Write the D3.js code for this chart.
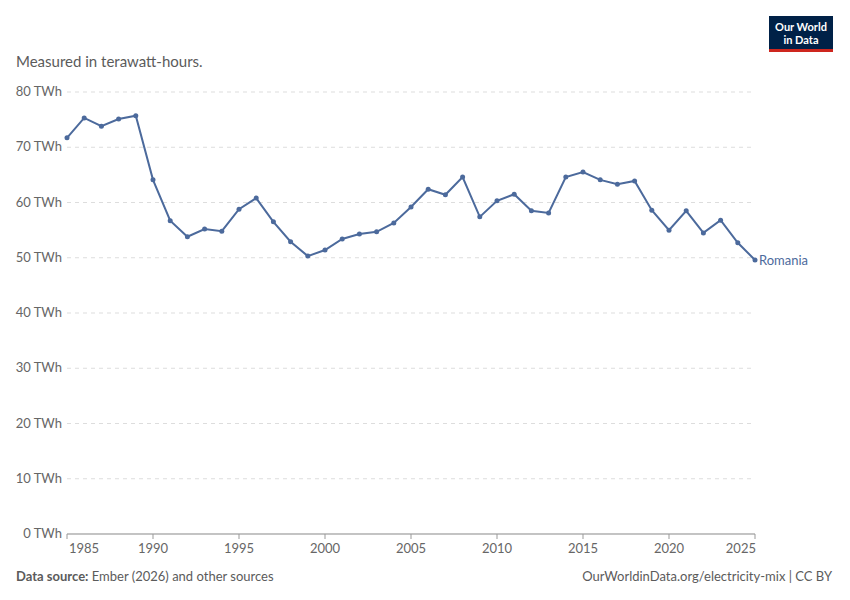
<!doctype html>
<html>
<head>
<meta charset="utf-8"/>
<script src="https://d3js.org/d3.v7.min.js"></script>
<style>
body{margin:0;background:#fff;font-family:Lato,"Noto Sans",sans-serif;}
</style>
</head>
<body>
<script>
var years = d3.range(1985, 2026);
var values = [71.7,75.3,73.8,75.1,75.7,64.1,56.7,53.8,55.2,54.8,58.8,60.8,56.5,52.9,50.3,51.4,53.4,54.3,54.7,56.3,
  59.2,62.4,61.4,64.6,57.4,60.3,61.5,58.5,58.1,64.6,65.5,64.1,63.3,63.9,58.6,55.0,58.5,54.5,56.8,52.7,49.6];
var yTicks = [0,10,20,30,40,50,60,70,80];
var xTicks = [1985,1990,1995,2000,2005,2010,2015,2020,2025];
var country = "Romania";
var color = "#4c6a9c";

var svg = d3.select("body").append("svg").attr("width",850).attr("height",600);

var x = d3.scaleLinear().domain([1985,2025]).range([67,755]);
var y = d3.scaleLinear().domain([0,80]).range([534,92]);

svg.append("text").attr("x",16).attr("y",67).attr("font-size",15).attr("fill","#5b5b5b").text("Measured in terawatt-hours.");

// logo
svg.append("rect").attr("x",769).attr("y",16).attr("width",64).attr("height",36).attr("fill","#002147");
svg.append("rect").attr("x",769).attr("y",49).attr("width",64).attr("height",3).attr("fill","#ce261e");
svg.append("text").attr("x",801).attr("y",31).attr("text-anchor","middle").attr("font-size",11).attr("font-weight",700).attr("fill","#fff").text("Our World");
svg.append("text").attr("x",801).attr("y",44).attr("text-anchor","middle").attr("font-size",11).attr("font-weight",700).attr("fill","#fff").text("in Data");

// grid + y labels
yTicks.forEach(function(t){
  svg.append("line").attr("x1",67).attr("x2",755).attr("y1",y(t)).attr("y2",y(t))
    .attr("stroke","#ddd").attr("stroke-dasharray", t===0 ? null : "4,4");
  svg.append("text").attr("x",62).attr("y",y(t)+4).attr("text-anchor","end").attr("font-size",13).attr("fill","#666").text(t+" TWh");
});
svg.append("line").attr("x1",67).attr("x2",755).attr("y1",y(0)).attr("y2",y(0)).attr("stroke","#999");

// x axis
xTicks.forEach(function(t,i){
  svg.append("line").attr("x1",x(t)).attr("x2",x(t)).attr("y1",y(0)).attr("y2",y(0)+5).attr("stroke","#999");
  var lx = x(t), anchor = "middle";
  if(i===0){ lx = 69; anchor = "start"; }
  if(i===xTicks.length-1){ lx = 756; anchor = "end"; }
  svg.append("text").attr("x",lx).attr("y",553).attr("text-anchor",anchor).attr("font-size",13).attr("fill","#666").text(t);
});

var data = years.map(function(d,i){return {year:d,value:values[i]};});
svg.append("path").datum(data).attr("fill","none").attr("stroke",color).attr("stroke-width",2)
  .attr("d", d3.line().x(function(d){return x(d.year);}).y(function(d){return y(d.value);}));
svg.selectAll("circle.pt").data(data).enter().append("circle")
  .attr("cx",function(d){return x(d.year);}).attr("cy",function(d){return y(d.value);})
  .attr("r",2.5).attr("fill",color);

var last = data[data.length-1];
svg.append("text").attr("x",x(last.year)+4).attr("y",y(last.value)+5).attr("font-size",13).attr("fill",color).text(country);

svg.append("text").attr("x",16).attr("y",581).attr("font-size",13).attr("fill","#5b5b5b")
  .html('<tspan font-weight="700">Data source:</tspan> Ember (2026) and other sources');
svg.append("text").attr("x",832).attr("y",581).attr("text-anchor","end").attr("font-size",13).attr("fill","#5b5b5b")
  .text("OurWorldinData.org/electricity-mix | CC BY");
</script>
</body>
</html>
